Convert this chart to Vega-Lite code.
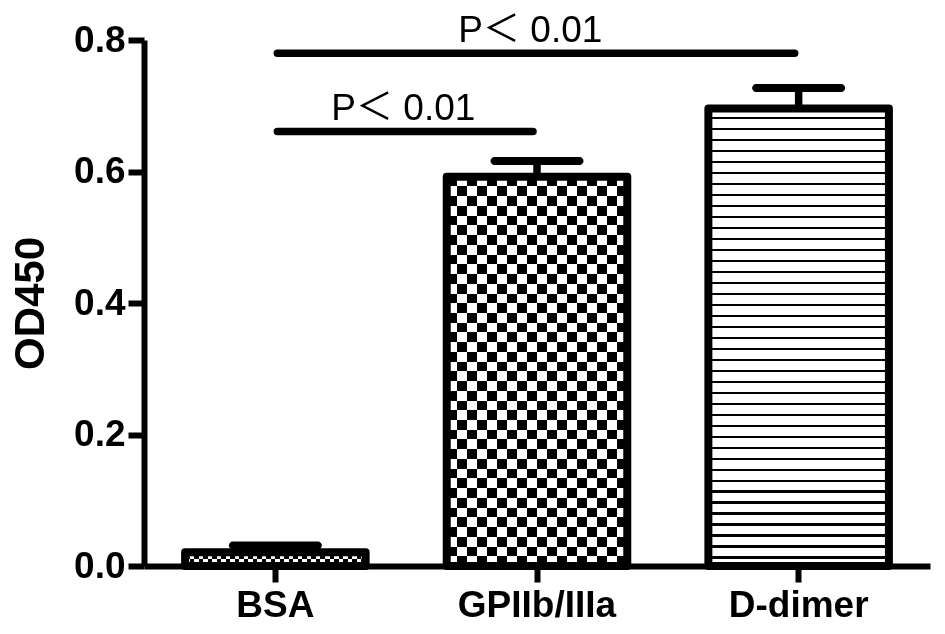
{
  "$schema": "https://vega.github.io/schema/vega-lite/v6.json",
  "width": 786,
  "height": 526,
  "autosize": "none",
  "padding": {"left": 144, "top": 40, "right": 15, "bottom": 68},
  "background": "white",
  "config": {
    "view": {"stroke": null},
    "axis": {
      "domainColor": "#000", "domainWidth": 6,
      "tickColor": "#000", "tickWidth": 6, "tickSize": 16,
      "labelColor": "#000", "labelFont": "Liberation Sans", "labelFontWeight": "bold", "labelFontSize": 37,
      "titleColor": "#000", "titleFont": "Liberation Sans", "titleFontWeight": "bold", "titleFontSize": 42,
      "grid": false
    }
  },
  "datasets": {
    "bars": [
      {"group": "BSA", "od": 0.021, "upper": 0.031},
      {"group": "GPIIb/IIIa", "od": 0.592, "upper": 0.616},
      {"group": "D-dimer", "od": 0.696, "upper": 0.727}
    ],
    "sig": [
      {"from": "BSA", "to": "GPIIb/IIIa", "y": 0.661, "label": "P＜ 0.01"},
      {"from": "BSA", "to": "D-dimer", "y": 0.78, "label": "P＜ 0.01"}
    ]
  },
  "layer": [
    {
      "data": {"name": "bars"},
      "mark": {"type": "rule", "color": "#000", "strokeWidth": 7.5},
      "encoding": {
        "x": {"field": "group", "type": "nominal", "title": null,
          "scale": {"domain": ["BSA", "GPIIb/IIIa", "D-dimer"], "paddingInner": 0.31, "paddingOuter": 0.157},
          "axis": {"labelAngle": 0, "labelPadding": 5}},
        "y": {"field": "od", "type": "quantitative", "title": "OD450",
          "scale": {"domain": [0, 0.8], "nice": false},
          "axis": {"values": [0, 0.2, 0.4, 0.6, 0.8], "format": ".1f", "labelPadding": 3, "titlePadding": 21, "labelFlush": false}},
        "y2": {"field": "upper"}
      }
    },
    {
      "data": {"name": "bars"},
      "mark": {"type": "tick", "color": "#000", "size": 93, "thickness": 8, "cornerRadius": 4, "opacity": 1},
      "encoding": {
        "x": {"field": "group", "type": "nominal", "title": null, "scale": {"domain": ["BSA", "GPIIb/IIIa", "D-dimer"], "paddingInner": 0.31, "paddingOuter": 0.157}},
        "y": {"field": "upper", "type": "quantitative"}
      }
    },
    {
      "data": {"name": "bars"},
      "transform": [{"filter": "datum.group === 'GPIIb/IIIa'"}],
      "mark": {"type": "bar", "strokeWidth": 0, "fill": {"gradient": "linear", "x1": 0, "y1": 0, "x2": 0, "y2": 1, "stops": [
        {"offset":0,"color":"#000"},
        {"offset":0.025,"color":"#000"},{"offset":0.025,"color":"#fff"},
        {"offset":0.05,"color":"#fff"},{"offset":0.05,"color":"#000"},
        {"offset":0.075,"color":"#000"},{"offset":0.075,"color":"#fff"},
        {"offset":0.1,"color":"#fff"},{"offset":0.1,"color":"#000"},
        {"offset":0.125,"color":"#000"},{"offset":0.125,"color":"#fff"},
        {"offset":0.15,"color":"#fff"},{"offset":0.15,"color":"#000"},
        {"offset":0.175,"color":"#000"},{"offset":0.175,"color":"#fff"},
        {"offset":0.2,"color":"#fff"},{"offset":0.2,"color":"#000"},
        {"offset":0.225,"color":"#000"},{"offset":0.225,"color":"#fff"},
        {"offset":0.25,"color":"#fff"},{"offset":0.25,"color":"#000"},
        {"offset":0.275,"color":"#000"},{"offset":0.275,"color":"#fff"},
        {"offset":0.3,"color":"#fff"},{"offset":0.3,"color":"#000"},
        {"offset":0.325,"color":"#000"},{"offset":0.325,"color":"#fff"},
        {"offset":0.35,"color":"#fff"},{"offset":0.35,"color":"#000"},
        {"offset":0.375,"color":"#000"},{"offset":0.375,"color":"#fff"},
        {"offset":0.4,"color":"#fff"},{"offset":0.4,"color":"#000"},
        {"offset":0.425,"color":"#000"},{"offset":0.425,"color":"#fff"},
        {"offset":0.45,"color":"#fff"},{"offset":0.45,"color":"#000"},
        {"offset":0.475,"color":"#000"},{"offset":0.475,"color":"#fff"},
        {"offset":0.5,"color":"#fff"},{"offset":0.5,"color":"#000"},
        {"offset":0.525,"color":"#000"},{"offset":0.525,"color":"#fff"},
        {"offset":0.55,"color":"#fff"},{"offset":0.55,"color":"#000"},
        {"offset":0.575,"color":"#000"},{"offset":0.575,"color":"#fff"},
        {"offset":0.6,"color":"#fff"},{"offset":0.6,"color":"#000"},
        {"offset":0.625,"color":"#000"},{"offset":0.625,"color":"#fff"},
        {"offset":0.65,"color":"#fff"},{"offset":0.65,"color":"#000"},
        {"offset":0.675,"color":"#000"},{"offset":0.675,"color":"#fff"},
        {"offset":0.7,"color":"#fff"},{"offset":0.7,"color":"#000"},
        {"offset":0.725,"color":"#000"},{"offset":0.725,"color":"#fff"},
        {"offset":0.75,"color":"#fff"},{"offset":0.75,"color":"#000"},
        {"offset":0.775,"color":"#000"},{"offset":0.775,"color":"#fff"},
        {"offset":0.8,"color":"#fff"},{"offset":0.8,"color":"#000"},
        {"offset":0.825,"color":"#000"},{"offset":0.825,"color":"#fff"},
        {"offset":0.85,"color":"#fff"},{"offset":0.85,"color":"#000"},
        {"offset":0.875,"color":"#000"},{"offset":0.875,"color":"#fff"},
        {"offset":0.9,"color":"#fff"},{"offset":0.9,"color":"#000"},
        {"offset":0.925,"color":"#000"},{"offset":0.925,"color":"#fff"},
        {"offset":0.95,"color":"#fff"},{"offset":0.95,"color":"#000"},
        {"offset":0.975,"color":"#000"},{"offset":0.975,"color":"#fff"},
        {"offset":1,"color":"#fff"}
      ]}},
      "encoding": {
        "x": {"field": "group", "type": "nominal", "title": null, "scale": {"domain": ["BSA", "GPIIb/IIIa", "D-dimer"], "paddingInner": 0.31, "paddingOuter": 0.157}},
        "y": {"field": "od", "type": "quantitative"}
      }
    },
    {
      "data": {"name": "bars"},
      "transform": [{"filter": "datum.group === 'GPIIb/IIIa'"}],
      "mark": {"type": "bar", "strokeWidth": 0, "blend": "difference", "fill": {"gradient": "linear", "x1": 0, "y1": 0, "x2": 1, "y2": 0, "stops": [
        {"offset":0,"color":"#000"},
        {"offset":0.0556,"color":"#000"},{"offset":0.0556,"color":"#fff"},
        {"offset":0.1111,"color":"#fff"},{"offset":0.1111,"color":"#000"},
        {"offset":0.1667,"color":"#000"},{"offset":0.1667,"color":"#fff"},
        {"offset":0.2222,"color":"#fff"},{"offset":0.2222,"color":"#000"},
        {"offset":0.2778,"color":"#000"},{"offset":0.2778,"color":"#fff"},
        {"offset":0.3333,"color":"#fff"},{"offset":0.3333,"color":"#000"},
        {"offset":0.3889,"color":"#000"},{"offset":0.3889,"color":"#fff"},
        {"offset":0.4444,"color":"#fff"},{"offset":0.4444,"color":"#000"},
        {"offset":0.5,"color":"#000"},{"offset":0.5,"color":"#fff"},
        {"offset":0.5556,"color":"#fff"},{"offset":0.5556,"color":"#000"},
        {"offset":0.6111,"color":"#000"},{"offset":0.6111,"color":"#fff"},
        {"offset":0.6667,"color":"#fff"},{"offset":0.6667,"color":"#000"},
        {"offset":0.7222,"color":"#000"},{"offset":0.7222,"color":"#fff"},
        {"offset":0.7778,"color":"#fff"},{"offset":0.7778,"color":"#000"},
        {"offset":0.8333,"color":"#000"},{"offset":0.8333,"color":"#fff"},
        {"offset":0.8889,"color":"#fff"},{"offset":0.8889,"color":"#000"},
        {"offset":0.9444,"color":"#000"},{"offset":0.9444,"color":"#fff"},
        {"offset":1,"color":"#fff"}
      ]}},
      "encoding": {
        "x": {"field": "group", "type": "nominal", "title": null, "scale": {"domain": ["BSA", "GPIIb/IIIa", "D-dimer"], "paddingInner": 0.31, "paddingOuter": 0.157}},
        "y": {"field": "od", "type": "quantitative"}
      }
    },
    {
      "data": {"name": "bars"},
      "transform": [{"filter": "datum.group === 'BSA'"}],
      "mark": {"type": "bar", "strokeWidth": 0, "fill": {"gradient": "linear", "x1": 0, "y1": 0, "x2": 0, "y2": 1, "stops": [
        {"offset":0,"color":"#000"},{"offset":0.5,"color":"#000"},{"offset":0.5,"color":"#fff"},{"offset":1,"color":"#fff"}
      ]}},
      "encoding": {
        "x": {"field": "group", "type": "nominal", "title": null, "scale": {"domain": ["BSA", "GPIIb/IIIa", "D-dimer"], "paddingInner": 0.31, "paddingOuter": 0.157}},
        "y": {"field": "od", "type": "quantitative"}
      }
    },
    {
      "data": {"name": "bars"},
      "transform": [{"filter": "datum.group === 'BSA'"}],
      "mark": {"type": "bar", "strokeWidth": 0, "blend": "difference", "fill": {"gradient": "linear", "x1": 0, "y1": 0, "x2": 1, "y2": 0, "stops": [
        {"offset":0,"color":"#000"},
        {"offset":0.025,"color":"#000"},{"offset":0.025,"color":"#fff"},
        {"offset":0.05,"color":"#fff"},{"offset":0.05,"color":"#000"},
        {"offset":0.075,"color":"#000"},{"offset":0.075,"color":"#fff"},
        {"offset":0.1,"color":"#fff"},{"offset":0.1,"color":"#000"},
        {"offset":0.125,"color":"#000"},{"offset":0.125,"color":"#fff"},
        {"offset":0.15,"color":"#fff"},{"offset":0.15,"color":"#000"},
        {"offset":0.175,"color":"#000"},{"offset":0.175,"color":"#fff"},
        {"offset":0.2,"color":"#fff"},{"offset":0.2,"color":"#000"},
        {"offset":0.225,"color":"#000"},{"offset":0.225,"color":"#fff"},
        {"offset":0.25,"color":"#fff"},{"offset":0.25,"color":"#000"},
        {"offset":0.275,"color":"#000"},{"offset":0.275,"color":"#fff"},
        {"offset":0.3,"color":"#fff"},{"offset":0.3,"color":"#000"},
        {"offset":0.325,"color":"#000"},{"offset":0.325,"color":"#fff"},
        {"offset":0.35,"color":"#fff"},{"offset":0.35,"color":"#000"},
        {"offset":0.375,"color":"#000"},{"offset":0.375,"color":"#fff"},
        {"offset":0.4,"color":"#fff"},{"offset":0.4,"color":"#000"},
        {"offset":0.425,"color":"#000"},{"offset":0.425,"color":"#fff"},
        {"offset":0.45,"color":"#fff"},{"offset":0.45,"color":"#000"},
        {"offset":0.475,"color":"#000"},{"offset":0.475,"color":"#fff"},
        {"offset":0.5,"color":"#fff"},{"offset":0.5,"color":"#000"},
        {"offset":0.525,"color":"#000"},{"offset":0.525,"color":"#fff"},
        {"offset":0.55,"color":"#fff"},{"offset":0.55,"color":"#000"},
        {"offset":0.575,"color":"#000"},{"offset":0.575,"color":"#fff"},
        {"offset":0.6,"color":"#fff"},{"offset":0.6,"color":"#000"},
        {"offset":0.625,"color":"#000"},{"offset":0.625,"color":"#fff"},
        {"offset":0.65,"color":"#fff"},{"offset":0.65,"color":"#000"},
        {"offset":0.675,"color":"#000"},{"offset":0.675,"color":"#fff"},
        {"offset":0.7,"color":"#fff"},{"offset":0.7,"color":"#000"},
        {"offset":0.725,"color":"#000"},{"offset":0.725,"color":"#fff"},
        {"offset":0.75,"color":"#fff"},{"offset":0.75,"color":"#000"},
        {"offset":0.775,"color":"#000"},{"offset":0.775,"color":"#fff"},
        {"offset":0.8,"color":"#fff"},{"offset":0.8,"color":"#000"},
        {"offset":0.825,"color":"#000"},{"offset":0.825,"color":"#fff"},
        {"offset":0.85,"color":"#fff"},{"offset":0.85,"color":"#000"},
        {"offset":0.875,"color":"#000"},{"offset":0.875,"color":"#fff"},
        {"offset":0.9,"color":"#fff"},{"offset":0.9,"color":"#000"},
        {"offset":0.925,"color":"#000"},{"offset":0.925,"color":"#fff"},
        {"offset":0.95,"color":"#fff"},{"offset":0.95,"color":"#000"},
        {"offset":0.975,"color":"#000"},{"offset":0.975,"color":"#fff"},
        {"offset":1,"color":"#fff"}
      ]}},
      "encoding": {
        "x": {"field": "group", "type": "nominal", "title": null, "scale": {"domain": ["BSA", "GPIIb/IIIa", "D-dimer"], "paddingInner": 0.31, "paddingOuter": 0.157}},
        "y": {"field": "od", "type": "quantitative"}
      }
    },
    {
      "data": {"name": "bars"},
      "transform": [{"filter": "datum.group === 'D-dimer'"}],
      "mark": {"type": "bar", "strokeWidth": 0, "fill": {"gradient": "linear", "x1": 0, "y1": 0, "x2": 0, "y2": 1, "stops": [
        {"offset":0,"color":"#fff"},{"offset":0.019,"color":"#fff"},{"offset":0.019,"color":"#000"},{"offset":0.024,"color":"#000"},
        {"offset":0.024,"color":"#fff"},{"offset":0.043,"color":"#fff"},{"offset":0.043,"color":"#000"},{"offset":0.048,"color":"#000"},
        {"offset":0.048,"color":"#fff"},{"offset":0.067,"color":"#fff"},{"offset":0.067,"color":"#000"},{"offset":0.072,"color":"#000"},
        {"offset":0.072,"color":"#fff"},{"offset":0.091,"color":"#fff"},{"offset":0.091,"color":"#000"},{"offset":0.096,"color":"#000"},
        {"offset":0.096,"color":"#fff"},{"offset":0.115,"color":"#fff"},{"offset":0.115,"color":"#000"},{"offset":0.12,"color":"#000"},
        {"offset":0.12,"color":"#fff"},{"offset":0.139,"color":"#fff"},{"offset":0.139,"color":"#000"},{"offset":0.144,"color":"#000"},
        {"offset":0.144,"color":"#fff"},{"offset":0.163,"color":"#fff"},{"offset":0.163,"color":"#000"},{"offset":0.168,"color":"#000"},
        {"offset":0.168,"color":"#fff"},{"offset":0.187,"color":"#fff"},{"offset":0.187,"color":"#000"},{"offset":0.192,"color":"#000"},
        {"offset":0.192,"color":"#fff"},{"offset":0.211,"color":"#fff"},{"offset":0.211,"color":"#000"},{"offset":0.216,"color":"#000"},
        {"offset":0.216,"color":"#fff"},{"offset":0.235,"color":"#fff"},{"offset":0.235,"color":"#000"},{"offset":0.24,"color":"#000"},
        {"offset":0.24,"color":"#fff"},{"offset":0.259,"color":"#fff"},{"offset":0.259,"color":"#000"},{"offset":0.264,"color":"#000"},
        {"offset":0.264,"color":"#fff"},{"offset":0.283,"color":"#fff"},{"offset":0.283,"color":"#000"},{"offset":0.288,"color":"#000"},
        {"offset":0.288,"color":"#fff"},{"offset":0.307,"color":"#fff"},{"offset":0.307,"color":"#000"},{"offset":0.312,"color":"#000"},
        {"offset":0.312,"color":"#fff"},{"offset":0.331,"color":"#fff"},{"offset":0.331,"color":"#000"},{"offset":0.336,"color":"#000"},
        {"offset":0.336,"color":"#fff"},{"offset":0.355,"color":"#fff"},{"offset":0.355,"color":"#000"},{"offset":0.36,"color":"#000"},
        {"offset":0.36,"color":"#fff"},{"offset":0.379,"color":"#fff"},{"offset":0.379,"color":"#000"},{"offset":0.384,"color":"#000"},
        {"offset":0.384,"color":"#fff"},{"offset":0.403,"color":"#fff"},{"offset":0.403,"color":"#000"},{"offset":0.408,"color":"#000"},
        {"offset":0.408,"color":"#fff"},{"offset":0.427,"color":"#fff"},{"offset":0.427,"color":"#000"},{"offset":0.432,"color":"#000"},
        {"offset":0.432,"color":"#fff"},{"offset":0.451,"color":"#fff"},{"offset":0.451,"color":"#000"},{"offset":0.456,"color":"#000"},
        {"offset":0.456,"color":"#fff"},{"offset":0.475,"color":"#fff"},{"offset":0.475,"color":"#000"},{"offset":0.48,"color":"#000"},
        {"offset":0.48,"color":"#fff"},{"offset":0.499,"color":"#fff"},{"offset":0.499,"color":"#000"},{"offset":0.504,"color":"#000"},
        {"offset":0.504,"color":"#fff"},{"offset":0.523,"color":"#fff"},{"offset":0.523,"color":"#000"},{"offset":0.528,"color":"#000"},
        {"offset":0.528,"color":"#fff"},{"offset":0.547,"color":"#fff"},{"offset":0.547,"color":"#000"},{"offset":0.552,"color":"#000"},
        {"offset":0.552,"color":"#fff"},{"offset":0.571,"color":"#fff"},{"offset":0.571,"color":"#000"},{"offset":0.576,"color":"#000"},
        {"offset":0.576,"color":"#fff"},{"offset":0.595,"color":"#fff"},{"offset":0.595,"color":"#000"},{"offset":0.6,"color":"#000"},
        {"offset":0.6,"color":"#fff"},{"offset":0.619,"color":"#fff"},{"offset":0.619,"color":"#000"},{"offset":0.624,"color":"#000"},
        {"offset":0.624,"color":"#fff"},{"offset":0.643,"color":"#fff"},{"offset":0.643,"color":"#000"},{"offset":0.648,"color":"#000"},
        {"offset":0.648,"color":"#fff"},{"offset":0.667,"color":"#fff"},{"offset":0.667,"color":"#000"},{"offset":0.672,"color":"#000"},
        {"offset":0.672,"color":"#fff"},{"offset":0.691,"color":"#fff"},{"offset":0.691,"color":"#000"},{"offset":0.696,"color":"#000"},
        {"offset":0.696,"color":"#fff"},{"offset":0.715,"color":"#fff"},{"offset":0.715,"color":"#000"},{"offset":0.72,"color":"#000"},
        {"offset":0.72,"color":"#fff"},{"offset":0.739,"color":"#fff"},{"offset":0.739,"color":"#000"},{"offset":0.744,"color":"#000"},
        {"offset":0.744,"color":"#fff"},{"offset":0.763,"color":"#fff"},{"offset":0.763,"color":"#000"},{"offset":0.768,"color":"#000"},
        {"offset":0.768,"color":"#fff"},{"offset":0.787,"color":"#fff"},{"offset":0.787,"color":"#000"},{"offset":0.792,"color":"#000"},
        {"offset":0.792,"color":"#fff"},{"offset":0.811,"color":"#fff"},{"offset":0.811,"color":"#000"},{"offset":0.816,"color":"#000"},
        {"offset":0.816,"color":"#fff"},{"offset":0.835,"color":"#fff"},{"offset":0.835,"color":"#000"},{"offset":0.84,"color":"#000"},
        {"offset":0.84,"color":"#fff"},{"offset":0.859,"color":"#fff"},{"offset":0.859,"color":"#000"},{"offset":0.864,"color":"#000"},
        {"offset":0.864,"color":"#fff"},{"offset":0.883,"color":"#fff"},{"offset":0.883,"color":"#000"},{"offset":0.888,"color":"#000"},
        {"offset":0.888,"color":"#fff"},{"offset":0.907,"color":"#fff"},{"offset":0.907,"color":"#000"},{"offset":0.912,"color":"#000"},
        {"offset":0.912,"color":"#fff"},{"offset":0.931,"color":"#fff"},{"offset":0.931,"color":"#000"},{"offset":0.936,"color":"#000"},
        {"offset":0.936,"color":"#fff"},{"offset":0.955,"color":"#fff"},{"offset":0.955,"color":"#000"},{"offset":0.96,"color":"#000"},
        {"offset":0.96,"color":"#fff"},{"offset":0.979,"color":"#fff"},{"offset":0.979,"color":"#000"},{"offset":0.984,"color":"#000"},
        {"offset":0.984,"color":"#fff"},{"offset":1,"color":"#fff"}
      ]}},
      "encoding": {
        "x": {"field": "group", "type": "nominal", "title": null, "scale": {"domain": ["BSA", "GPIIb/IIIa", "D-dimer"], "paddingInner": 0.31, "paddingOuter": 0.157}},
        "y": {"field": "od", "type": "quantitative"}
      }
    },
    {
      "data": {"name": "bars"},
      "mark": {"type": "bar", "fill": "transparent", "stroke": "#000", "strokeWidth": 8, "strokeJoin": "round"},
      "encoding": {
        "x": {"field": "group", "type": "nominal", "title": null, "scale": {"domain": ["BSA", "GPIIb/IIIa", "D-dimer"], "paddingInner": 0.31, "paddingOuter": 0.157}},
        "y": {"field": "od", "type": "quantitative"}
      }
    },
    {
      "data": {"name": "sig"},
      "mark": {"type": "rule", "color": "#000", "strokeWidth": 7.5, "strokeCap": "round", "xOffset": 2, "x2Offset": -4},
      "encoding": {
        "x": {"field": "from", "type": "nominal", "title": null, "scale": {"domain": ["BSA", "GPIIb/IIIa", "D-dimer"], "paddingInner": 0.31, "paddingOuter": 0.157}},
        "x2": {"field": "to"},
        "y": {"field": "y", "type": "quantitative"}
      }
    },
    {
      "data": {"name": "sig"},
      "transform": [{"filter": "datum.to === 'GPIIb/IIIa'"}],
      "mark": {"type": "text", "font": "Liberation Sans, Noto Sans CJK SC", "fontSize": 37, "color": "#000", "align": "center", "baseline": "alphabetic", "dy": -11, "xOffset": 128},
      "encoding": {
        "x": {"field": "from", "type": "nominal", "title": null, "scale": {"domain": ["BSA", "GPIIb/IIIa", "D-dimer"], "paddingInner": 0.31, "paddingOuter": 0.157}},
        "y": {"field": "y", "type": "quantitative"},
        "text": {"field": "label"}
      }
    },
    {
      "data": {"name": "sig"},
      "transform": [{"filter": "datum.to === 'D-dimer'"}],
      "mark": {"type": "text", "font": "Liberation Sans, Noto Sans CJK SC", "fontSize": 37, "color": "#000", "align": "center", "baseline": "alphabetic", "dy": -11, "xOffset": 255},
      "encoding": {
        "x": {"field": "from", "type": "nominal", "title": null, "scale": {"domain": ["BSA", "GPIIb/IIIa", "D-dimer"], "paddingInner": 0.31, "paddingOuter": 0.157}},
        "y": {"field": "y", "type": "quantitative"},
        "text": {"field": "label"}
      }
    }
  ]
}
